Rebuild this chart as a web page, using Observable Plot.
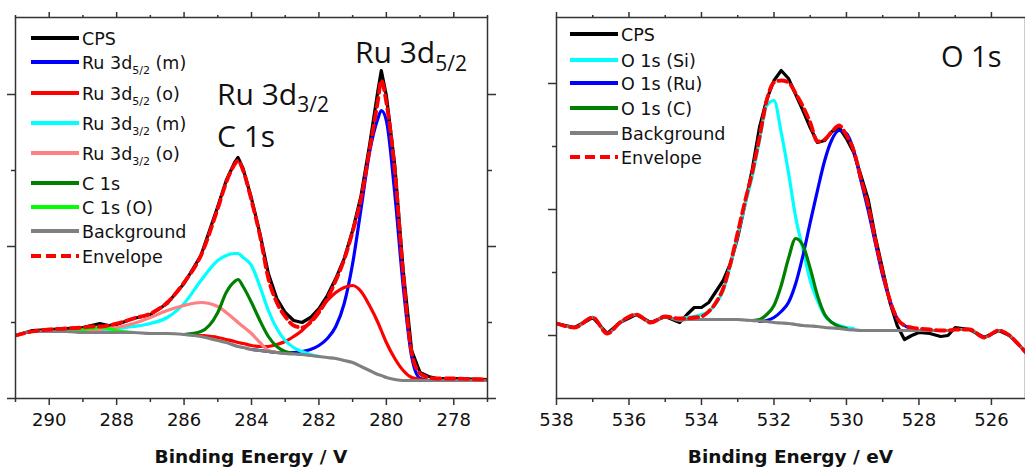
<!DOCTYPE html>
<html><head><meta charset="utf-8">
<script src="https://cdn.jsdelivr.net/npm/d3@7"></script>
<script src="https://cdn.jsdelivr.net/npm/@observablehq/plot@0.6"></script>
<style>
html,body{margin:0;padding:0;background:#fff;overflow:hidden}
#wrap{position:relative;width:1025px;height:469px;overflow:hidden}
#wrap svg{position:absolute;top:0}
</style></head><body><div id="wrap"></div>
<script>
// ---------- Left panel: Ru 3d / C 1s (binding energy, intensity in arbitrary units) ----------
const leftEnergy = [291, 290.5, 290, 289.5, 289, 288.75, 288.5, 288.25, 288, 287.5, 287, 286.5, 286, 285.5, 285, 284.75, 284.5, 284.4, 284.25, 284, 283.75, 283.5, 283.25, 283, 282.75, 282.5, 282.25, 282, 281.75, 281.5, 281.25, 281, 280.75, 280.5, 280.25, 280.15, 280, 279.75, 279.5, 279.25, 279, 278.75, 278.5, 278, 277.5, 277];
const leftCPS = [63, 68, 69, 70, 71, 73, 75, 73, 74, 80, 84, 95, 115, 143, 192, 218, 236, 241, 230, 200, 165, 125, 100, 86, 78, 76, 81, 90, 103, 120, 140, 168, 203, 253, 308, 328, 303, 233, 128, 48, 26, 22, 20, 20, 19.5, 19];
const leftRu52m = [null, null, null, null, null, null, null, null, null, null, null, null, null, null, null, null, null, null, null, 49, 48, 47, 46, 46, 46, 47, 49, 53, 60, 72, 95, 135, 190, 246, 280, 288, 278, 205, 112, 42, 20, 18, null, null, null, null];
const leftRu52o = [null, null, null, null, null, null, null, null, null, null, null, null, 64, 63, 61, 59, 57, 56, 55, 53, 52, 52, 54, 57, 62, 68, 77, 88, 98, 106, 111, 113, 107, 93, 76, 68, 56, 40, 28, 21, 19, 18, null, null, null, null];
const leftRu32m = [null, null, null, null, 67, 68, 69, 69, 70, 72, 75, 81, 95, 118, 138, 143, 145, 145, 141, 133, 112, 88, 70, 58, 51, 47, 44, 42, null, null, null, null, null, null, null, null, null, null, null, null, null, null, null, null, null, null];
const leftRu32o = [null, null, null, null, 68, 68, 69, 70, 71, 75, 81, 88, 93, 96, 92, 86, 79, 76, 72, 65, 56, 48, 46, 45, null, null, null, null, null, null, null, null, null, null, null, null, null, null, null, null, null, null, null, null, null, null];
const leftC1s = [null, null, null, null, null, null, null, null, null, null, null, null, 64, 67, 86, 106, 117, 119, 112, 96, 78, 62, 52, 47, 45, null, null, null, null, null, null, null, null, null, null, null, null, null, null, null, null, null, null, null, null, null];
const leftC1sO = [null, null, null, 67, 69, 70, 71, 70, 68, 66, null, null, null, null, null, null, null, null, null, null, null, null, null, null, null, null, null, null, null, null, null, null, null, null, null, null, null, null, null, null, null, null, null, null, null, null];
const leftBackground = [63, 67, 67, 67, 66, 66, 66, 66, 66, 66, 65, 65, 64, 62, 58, 56, 53, 52, 51, 49, 48, 47, 46, 45, 44.5, 44, 43, 42, 41, 40, 38, 36, 32, 28, 24, 23, 21, 19, 18, 18, 18, 18, 18, 18, 18, 18];
const leftEnvelope = [63, 67, 69, 70, 71, 72, 72, 73, 75, 80, 85, 96, 116, 143, 190, 216, 234, 238, 228, 198, 163, 120, 96, 82, 73, 71, 76, 86, 100, 118, 139, 167, 200, 248, 298, 318, 296, 228, 124, 46, 25, 21, 20, 20, 19.5, 19];
const leftXMajor = [290, 288, 286, 284, 282, 280, 278];
const leftXMinor = [291, 289, 287, 285, 283, 281, 279, 277];
const leftYMajor = [0, 152, 304];
const leftYMinor = [76, 228];

// ---------- Right panel: O 1s ----------
const rightEnergy = [538, 537.5, 537, 536.6, 536.25, 535.8, 535.4, 535, 534.6, 534.4, 534.2, 534, 533.8, 533.6, 533.4, 533.2, 533, 532.8, 532.6, 532.4, 532.2, 532, 531.8, 531.6, 531.4, 531.2, 531, 530.8, 530.6, 530.4, 530.2, 530, 529.8, 529.6, 529.4, 529.2, 529, 528.8, 528.6, 528.4, 528.2, 528, 527.7, 527.4, 527.2, 527, 526.6, 526.2, 525.8, 525.5, 525.25, 525.05];
const rightCPS = [75, 71, 81, 65, 76, 84, 76, 82, 76, 84, 91, 91, 96, 107, 118, 135, 161, 194, 229, 271, 299, 318, 328, 320, 304, 288, 271, 256, 258, 267, 271, 260, 246, 223, 199, 161, 129, 96, 73, 59, 63, 66, 65, 62, 63, 71, 69, 61, 68, 63, 54, 46];
const rightO1sSi = [null, null, null, null, null, null, null, null, 80, 81, 82, 84, 87, 95, 108, 134, 164, 194, 222, 258, 293, 298, 266, 226, 181, 149, 118, 98, 83, 76, 73, 71, 70, null, null, null, null, null, null, null, null, null, null, null, null, null, null, null, null, null, null, null];
const rightO1sRu = [null, null, null, null, null, null, null, null, null, null, null, null, null, null, null, null, null, null, null, 77, 78, 81, 87, 96, 115, 143, 176, 208, 238, 259, 268, 265, 248, 218, 188, 155, 123, 98, 80, 73, 70, 68, null, null, null, null, null, null, null, null, null, null];
const rightO1sC = [null, null, null, null, null, null, null, null, null, null, null, null, null, null, null, null, null, null, 78, 79, 84, 93, 113, 140, 160, 153, 130, 103, 84, 76, 72, 70, null, null, null, null, null, null, null, null, null, null, null, null, null, null, null, null, null, null, null, null];
const rightBackground = [75, 71, 81, 65, 76, 84, 76, 82, 78, 79, 79, 79, 79, 79, 79, 79, 79, 78.5, 78, 77.5, 77, 76, 75.5, 75, 74, 73, 72.5, 72, 71, 70.5, 70, 69, 68.5, 68, 68, 68, 68, 68, 68, 68, 68, 68, 68, 68, 68, 69, 69, 61, 68, 63, 54, 46];
const rightEnvelope = [75, 71, 81, 65, 76, 84, 76, 82, 80, 80, 81, 82, 87, 96, 110, 135, 166, 197, 226, 261, 298, 316, 318, 316, 305, 292, 276, 257, 259, 267, 273, 263, 248, 220, 193, 158, 126, 98, 80, 73, 71, 70, 69, 68, 68, 69, 69, 61, 68, 63, 54, 46];
const rightXMajor = [538, 536, 534, 532, 530, 528, 526];
const rightXMinor = [537, 535, 533, 531, 529, 527];
const rightYMajor = [63, 189, 315];
const rightYMinor = [126, 252];

// ---------- Drawing ----------
const AX = "#333";
const LEG_FONT = "DejaVu Sans";
const ANN_FONT = "Open Sans";

function makePanel(cfg) {
  const rows = cfg.energy.map((E, i) => {
    const r = {E};
    cfg.series.forEach(s => { r[s.key] = s.values[i]; });
    return r;
  });
  const marks = cfg.series.map(s => Plot.line(rows, {
    x: "E", y: s.key, stroke: s.color,
    strokeWidth: s.dash ? 3.8 : 3.2, strokeDasharray: s.dash,
    curve: s.curve || "monotone-x", clip: true
  }));
  const blank = () => "";
  const ax = {stroke: AX, strokeWidth: 1.5, label: null};
  marks.push(
    Plot.axisX({...ax, ticks: cfg.xMajor, anchor: "bottom", tickSize: 7, tickPadding: 8, fontSize: 18, fontFamily: LEG_FONT, fill: "#111", tickFormat: d => String(d)}),
    Plot.axisX({...ax, ticks: cfg.xMinor, anchor: "bottom", tickSize: 4, tickFormat: blank}),
    Plot.axisX({...ax, ticks: cfg.xMajor, anchor: "top", tickSize: 6, tickFormat: blank}),
    Plot.axisX({...ax, ticks: cfg.xMinor, anchor: "top", tickSize: 3, tickFormat: blank}),
    Plot.axisY({...ax, ticks: cfg.yMajor, anchor: "left", tickSize: 8, tickFormat: blank}),
    Plot.axisY({...ax, ticks: cfg.yMinor, anchor: "left", tickSize: 4, tickFormat: blank}),
    Plot.axisY({...ax, ticks: cfg.yMajor, anchor: "right", tickSize: 8, tickFormat: blank}),
    Plot.axisY({...ax, ticks: cfg.yMinor, anchor: "right", tickSize: 4, tickFormat: blank}),
    Plot.frame({stroke: AX, strokeWidth: 1.5})
  );
  const svg = Plot.plot({
    width: cfg.width, height: 469,
    marginLeft: cfg.marginLeft, marginRight: cfg.marginRight, marginTop: 17, marginBottom: 71,
    x: {domain: cfg.xDomain},
    y: {domain: cfg.yDomain},
    style: {background: "transparent", overflow: "visible"},
    marks
  });
  svg.style.left = cfg.left + "px";
  const g = d3.select(svg).append("g");
  // axis title
  g.append("text").attr("x", (cfg.marginLeft + cfg.width - cfg.marginRight) / 2).attr("y", 463)
    .attr("text-anchor", "middle").attr("font-family", LEG_FONT).attr("font-weight", "bold")
    .attr("font-size", 18.5).attr("fill", "#111").text(cfg.title);
  // legend
  cfg.legend.forEach((it, i) => {
    const y = cfg.legendY[i];
    const s = cfg.series.find(d => d.key === it.key);
    g.append("line").attr("x1", cfg.legX0).attr("x2", cfg.legX1).attr("y1", y).attr("y2", y)
      .attr("stroke", s.color).attr("stroke-width", 4)
      .attr("stroke-dasharray", s.dash ? "10,5" : null);
    richText(g, cfg.legX1 + 3, y + 6.5, it.label, 17.5, LEG_FONT, 11, 5);
  });
  // annotations
  cfg.notes.forEach(n => richText(g, n.x, n.y, n.text, n.size, ANN_FONT, n.sub, n.shift));
  return svg;
}

function richText(g, x, y, label, size, font, subSize, shift) {
  const t = g.append("text").attr("x", x).attr("y", y).attr("font-family", font)
    .attr("text-anchor", "start").attr("font-size", size).attr("fill", "#111");
  const parts = label.split(/(_\{[^}]*\})/).filter(p => p.length);
  let down = false;
  parts.forEach(p => {
    if (p.startsWith("_{")) {
      t.append("tspan").attr("font-size", subSize).attr("dy", shift).text(p.slice(2, -1));
      down = true;
    } else {
      const ts = t.append("tspan").text(p);
      if (down) { ts.attr("dy", -shift); down = false; }
    }
  });
}

const wrap = document.getElementById("wrap");

wrap.appendChild(makePanel({
  left: 0, width: 510, marginLeft: 15, marginRight: 23,
  energy: leftEnergy,
  xDomain: [291, 277], yDomain: [0, 381],
  xMajor: leftXMajor, xMinor: leftXMinor, yMajor: leftYMajor, yMinor: leftYMinor,
  title: "Binding Energy / V",
  series: [
    {key: "cps", values: leftCPS, color: "#000000", curve: "linear"},
    {key: "ru52m", values: leftRu52m, color: "#0000ff"},
    {key: "ru52o", values: leftRu52o, color: "#ff0000"},
    {key: "ru32m", values: leftRu32m, color: "#00ffff"},
    {key: "ru32o", values: leftRu32o, color: "#ff8080"},
    {key: "c1s", values: leftC1s, color: "#008000"},
    {key: "c1so", values: leftC1sO, color: "#00ff00"},
    {key: "bg", values: leftBackground, color: "#808080"},
    {key: "env", values: leftEnvelope, color: "#ff0000", dash: "9,5"}
  ],
  legend: [
    {key: "cps", label: "CPS"},
    {key: "ru52m", label: "Ru 3d_{5/2} (m)"},
    {key: "ru52o", label: "Ru 3d_{5/2} (o)"},
    {key: "ru32m", label: "Ru 3d_{3/2} (m)"},
    {key: "ru32o", label: "Ru 3d_{3/2} (o)"},
    {key: "c1s", label: "C 1s"},
    {key: "c1so", label: "C 1s (O)"},
    {key: "bg", label: "Background"},
    {key: "env", label: "Envelope"}
  ],
  legendY: [38, 62, 93, 123, 153, 183, 207, 231, 256],
  legX0: 31, legX1: 79,
  notes: [
    {x: 217, y: 105, text: "Ru 3d_{3/2}", size: 30, sub: 21, shift: 7},
    {x: 217, y: 147, text: "C 1s", size: 30, sub: 21, shift: 7},
    {x: 355, y: 63, text: "Ru 3d_{5/2}", size: 30, sub: 21, shift: 8}
  ]
}));

wrap.appendChild(makePanel({
  left: 510, width: 515, marginLeft: 46, marginRight: 0,
  energy: rightEnergy,
  xDomain: [538, 525.06], yDomain: [0, 381],
  xMajor: rightXMajor, xMinor: rightXMinor, yMajor: rightYMajor, yMinor: rightYMinor,
  title: "Binding Energy / eV",
  series: [
    {key: "cps", values: rightCPS, color: "#000000", curve: "linear"},
    {key: "si", values: rightO1sSi, color: "#00ffff"},
    {key: "ru", values: rightO1sRu, color: "#0000ff"},
    {key: "c", values: rightO1sC, color: "#008000"},
    {key: "bg", values: rightBackground, color: "#808080"},
    {key: "env", values: rightEnvelope, color: "#ff0000", dash: "9,5"}
  ],
  legend: [
    {key: "cps", label: "CPS"},
    {key: "si", label: "O 1s (Si)"},
    {key: "ru", label: "O 1s (Ru)"},
    {key: "c", label: "O 1s (C)"},
    {key: "bg", label: "Background"},
    {key: "env", label: "Envelope"}
  ],
  legendY: [34, 60, 83, 108, 133, 157],
  legX0: 60, legX1: 108,
  notes: [
    {x: 431, y: 67, text: "O 1s", size: 29, sub: 20, shift: 7}
  ]
}));
</script></body></html>
